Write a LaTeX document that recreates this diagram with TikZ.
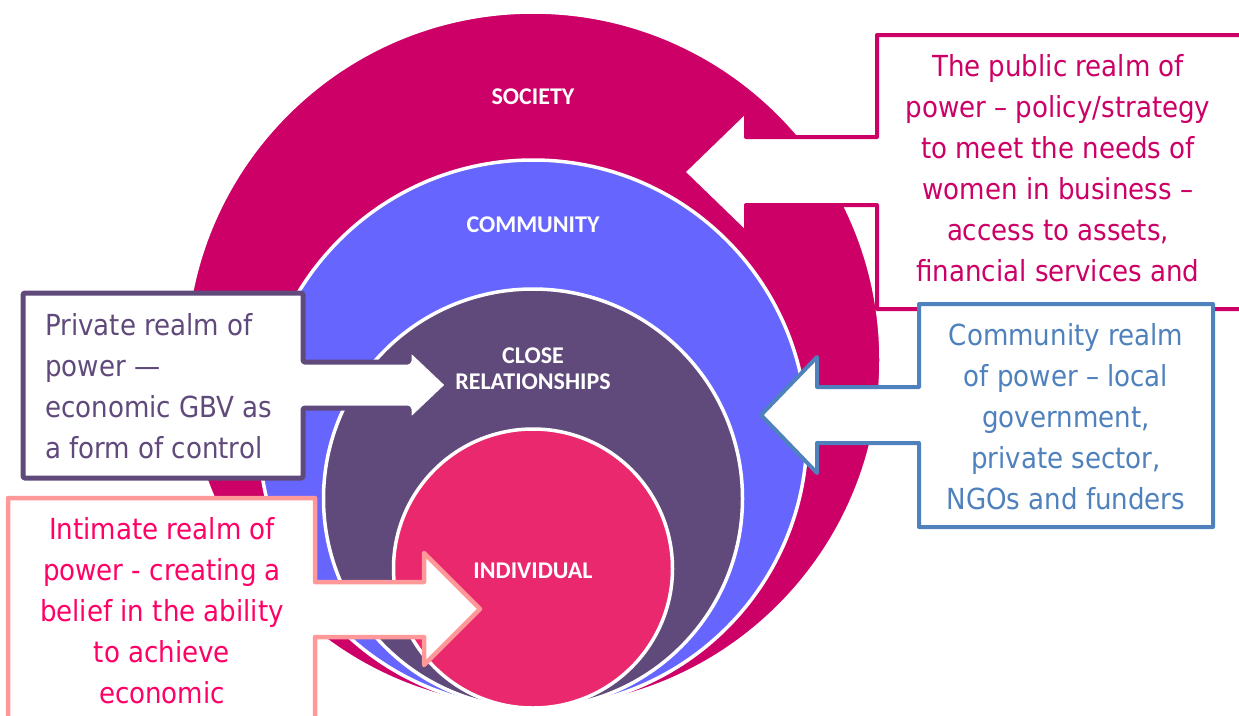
\documentclass[tikz,border=0pt]{standalone}
\usepackage{fontspec}
\setmainfont{DejaVu Sans Condensed}
\newfontfamily\ringfont{Carlito}
\definecolor{society}{RGB}{204,0,102}
\definecolor{community}{RGB}{102,102,255}
\definecolor{closerel}{RGB}{96,74,123}
\definecolor{individual}{RGB}{234,40,110}
\definecolor{intimline}{RGB}{255,153,153}
\definecolor{intimtext}{RGB}{255,0,102}
\definecolor{commline}{RGB}{79,129,189}

\begin{document}
\begin{tikzpicture}[x=1pt,y=-1pt,line join=round,
    ring/.style={draw=white,line width=3.5pt},
    ringlabel/.style={text=white,font=\ringfont\bfseries\fontsize{24}{26}\selectfont,align=center},
    realm/.style={fill=white,line width=4pt},
    realmtext/.style={font=\fontsize{29}{41}\selectfont,align=center,inner sep=0pt}]
    \clip (0,0) rectangle (1239,715);
    \fill[white] (0,0) rectangle (1239,715);
    \filldraw[ring,fill=society] (533,360) circle (348pt);
    \filldraw[ring,fill=community] (533,434) circle (274pt);
    \filldraw[ring,fill=closerel] (533,498.5) circle (209.5pt);
    \filldraw[ring,fill=individual] (533,568.5) circle (139.5pt);
    \filldraw[realm,draw=society] (877,35) -- (1260,35) -- (1260,309) -- (877,309) -- (877,205) -- (746,205) -- (746,233) -- (683,172) -- (746,111) -- (746,137) -- (877,137) -- cycle;
    \filldraw[realm,draw=commline] (919,304) -- (1213,304) -- (1213,527) -- (919,527) -- (919,443) -- (817,443) -- (817,473) -- (761,415) -- (817,357) -- (817,387) -- (919,387) -- cycle;
    \filldraw[realm,draw=closerel,line width=5pt,rounded corners=1.5pt] (23,293) -- (303,293) -- (303,362) -- (409,362) -- (409,348) -- (448,385) -- (409,422) -- (409,408) -- (303,408) -- (303,478) -- (23,478) -- cycle;
    \filldraw[realm,draw=intimline,line width=4.5pt] (8,498) -- (315,498) -- (315,582) -- (424,582) -- (424,553) -- (480,609) -- (424,665) -- (424,637) -- (315,637) -- (315,740) -- (8,740) -- cycle;
    \node[ringlabel] (society) at (533,97) {SOCIETY};
    \node[ringlabel] (community) at (533,225) {COMMUNITY};
    \node[ringlabel] (closerel) at (533,369) {CLOSE\\RELATIONSHIPS};
    \node[ringlabel] (individual) at (533,571) {INDIVIDUAL};
    \node[realmtext,text=society] (public) at (1058,168) {The public realm of\\power – policy/strategy\\to meet the needs of\\women in business –\\access to assets,\\financial services and};
    \node[realmtext,text=commline] (commrealm) at (1066,417) {Community realm\\of power – local\\government,\\private sector,\\NGOs and funders};
    \node[realmtext,text=closerel,align=left,anchor=west] (private) at (45,386) {Private realm of\\power —\\economic GBV as\\a form of control};
    \node[realmtext,text=intimtext] (intimate) at (162,611) {Intimate realm of\\power - creating a\\belief in the ability\\to achieve\\economic};
\end{tikzpicture}
\end{document}
